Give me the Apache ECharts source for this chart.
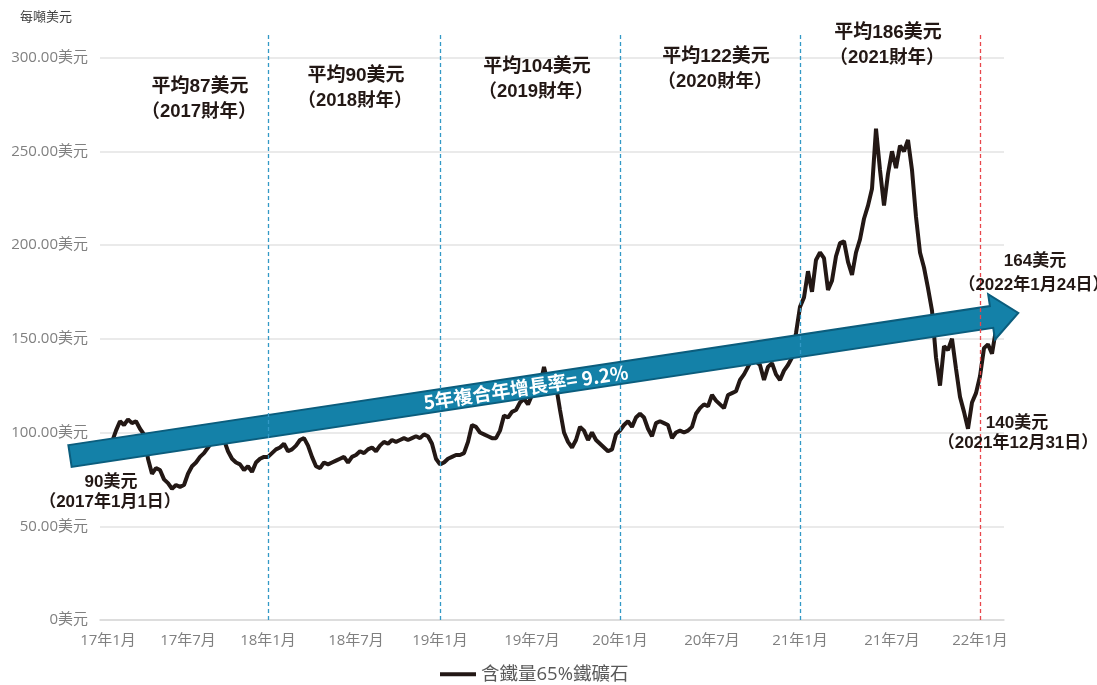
<!DOCTYPE html>
<html><head><meta charset="utf-8">
<script src="https://cdn.jsdelivr.net/npm/echarts@6/dist/echarts.min.js"></script>
<style>html,body{margin:0;padding:0;background:#fff}#c{width:1097px;height:685px}</style>
</head><body><div id="c"></div>
<script>
// ---------------- DATA ----------------
const seriesName = '含鐵量65%鐵礦石';
const unitLabel = '每噸美元';
const years = [2017, 2018, 2019, 2020, 2021, 2022];
const price2017 = [90,95,101,106,104,107,105,106,102,99, 86,78,81,80,75,73,70,72,71,72, 78,82,84,87,89,92,95,97,98,96, 90,86,84,83,80,82,79,84,86,87];
const price2018 = [87,89,91,92,94,90,91,93,96,97, 93,87,82,81,84,83,84,85,86,87, 84,87,88,90,89,91,92,90,93,95, 94,96,95,96,97,96,97,98,97,99, 98,94,86];
const price2019 = [83,84,86,87,88,88,89,95,104,103, 100,99,98,97,97,101,109,108,111,112, 116,118,115,120,124,125,135,126,128,125, 112,100,95,92,96,103,101,96,100,96, 94,92,90,91,99];
const price2020 = [101,104,106,103,108,110,108,102,98,105, 106,105,104,97,100,101,100,101,103,110, 113,115,114,120,117,115,113,120,121,122, 128,131,135,139,138,136,128,135,137,131, 128,133,136,140,153];
const price2021 = [167,172,186,175,192,196,193,176,181,194, 201,202,191,184,196,203,214,221,230,262, 240,221,238,250,241,253,250,256,240,215, 196,188,177,165,140,125,146,144,150,134, 119,111,102,116,121];
const price2022 = [130,145,147,142,155];
const priceByYear = [price2017, price2018, price2019, price2020, price2021, price2022];
const tickLabels = ['17年1月','17年7月','18年1月','18年7月','19年1月','19年7月','20年1月','20年7月','21年1月','21年7月','22年1月'];
const yUnit = '美元';
const avgLabels = ['平均87美元','平均90美元','平均104美元','平均122美元','平均186美元'];
const fyLabels = ['（2017財年）','（2018財年）','（2019財年）','（2020財年）','（2021財年）'];
const cagrText = '5年複合年增長率= 9.2%';
const startLabel = ['90美元','（2017年1月1日）'];
const endLabel = ['164美元','（2022年1月24日）'];
const yearEndLabel = ['140美元','（2021年12月31日）'];

// ---------------- BUILD CATEGORIES ----------------
const categories = ['pre-0','pre-1'];
const values = [null, null];
const yearStart = {};
const yearMid = {};
years.forEach((y, yi) => {
  const arr = priceByYear[yi];
  arr.forEach((v, i) => {
    const name = y + '-' + String(i).padStart(3, '0');
    if (i === 0) yearStart[y] = name;
    if (i === Math.round(arr.length / 2)) yearMid[y] = name;
    categories.push(name);
    values.push(v);
  });
});
categories.push('post-0', 'post-1');
values.push(null, null);

const labelMap = {};
let t = 0;
years.forEach(y => {
  if (t < tickLabels.length) labelMap[yearStart[y]] = tickLabels[t++];
  if (y !== 2022 && t < tickLabels.length) labelMap[yearMid[y]] = tickLabels[t++];
});

// ---------------- STYLE ----------------
const axisFont = "'Open Sans','Noto Sans CJK TC',sans-serif";
const annFont = "'Liberation Sans','Noto Sans CJK TC',sans-serif";
const ink = '#231815';
const gridLeft = 100, gridWidth = 904, gridBottom = 65;

const chart = echarts.init(document.getElementById('c'));

// arrow geometry (annotation)
const S = [70, 456];
const theta = Math.atan2(143, 948);
function P(a, p) {
  return [S[0] + a * Math.cos(theta) + p * Math.sin(theta),
          S[1] - a * Math.sin(theta) + p * Math.cos(theta)];
}
const arrowPts = [P(0,-11), P(932,-11), P(932,-23), P(959,0), P(932,23), P(932,11), P(0,11)];
const textC = P(461, 0);

function txt(s, x, y, size, color, weight, z) {
  return {
    type: 'text', x: x, y: y, z: z || 20,
    style: { text: s, x: 0, y: 0, fill: color, font: (weight || 'bold') + ' ' + size + 'px ' + annFont,
             align: 'center', verticalAlign: 'middle', textAlign: 'center', textVerticalAlign: 'middle' }
  };
}

const avgPos = [[200, 87], [356, 76], [537, 67], [716, 57], [888, 33]];
const graphics = [
  { type: 'polygon', z: 4, shape: { points: arrowPts },
    style: { fill: '#1481a8', stroke: '#0b5d7d', lineWidth: 2 } },
  { type: 'text', x: textC[0], y: textC[1], rotation: theta, z: 6,
    style: { text: cagrText, x: 0, y: 0, fill: '#ffffff', font: 'bold 19px ' + "'Noto Sans CJK TC',sans-serif",
             align: 'center', verticalAlign: 'middle', textAlign: 'center', textVerticalAlign: 'middle' } },
  { type: 'text', x: 20, y: 17, z: 20,
    style: { text: unitLabel, x: 0, y: 0, fill: '#404040', font: '13px ' + axisFont,
             align: 'left', verticalAlign: 'middle', textAlign: 'left', textVerticalAlign: 'middle' } }
];
avgLabels.forEach((s, i) => {
  graphics.push(txt(s, avgPos[i][0], avgPos[i][1], 19, ink));
  graphics.push(txt(fyLabels[i], avgPos[i][0] - 1, avgPos[i][1] + 25, 18.5, ink));
});
graphics.push(txt(startLabel[0], 111, 482, 17, ink));
graphics.push(txt(startLabel[1], 110, 502, 17, ink));
graphics.push(txt(endLabel[0], 1035, 261, 17, ink));
graphics.push(txt(endLabel[1], 1034, 285, 17, ink));
graphics.push(txt(yearEndLabel[0], 1017, 423, 17, ink));
graphics.push(txt(yearEndLabel[1], 1018, 443, 17, ink));

const dividerData = [2018, 2019, 2020, 2021].map(y => ({
  xAxis: yearStart[y], lineStyle: { color: '#3399c6', type: [4, 3], width: 1.3 }
}));
dividerData.push({ xAxis: yearStart[2022], lineStyle: { color: '#e8474c', type: [4, 3], width: 1.3 } });

chart.setOption({
  animation: false,
  backgroundColor: '#ffffff',
  grid: [
    { left: gridLeft, width: gridWidth, top: 57.5, bottom: gridBottom },
    { left: gridLeft, width: gridWidth, top: 35, bottom: gridBottom }
  ],
  legend: {
    data: [seriesName], left: 435, top: 660, icon: 'rect', itemWidth: 36, itemHeight: 4, itemGap: 7,
    textStyle: { color: '#595959', fontSize: 18.5, fontFamily: axisFont }
  },
  xAxis: [
    { type: 'category', data: categories, boundaryGap: false, gridIndex: 0,
      axisTick: { show: false },
      axisLine: { show: true, lineStyle: { color: '#d9d9d9', width: 1.5 } },
      axisLabel: {
        interval: (idx, val) => labelMap[val] !== undefined,
        formatter: (val) => labelMap[val] || '',
        color: '#808080', fontSize: 15, fontFamily: axisFont, margin: 13
      },
      splitLine: { show: false } },
    { type: 'category', data: categories, boundaryGap: false, gridIndex: 1, show: false }
  ],
  yAxis: [
    { type: 'value', min: 0, max: 300, interval: 50, gridIndex: 0,
      axisLine: { show: false }, axisTick: { show: false },
      axisLabel: { formatter: v => (v === 0 ? '0' : v.toFixed(2)) + yUnit,
                   color: '#808080', fontSize: 15, fontFamily: axisFont, margin: 12 },
      splitLine: { lineStyle: { color: '#e3e3e3', width: 1.5 } } },
    { type: 'value', min: 0, max: 1, gridIndex: 1, show: false }
  ],
  series: [
    { name: seriesName, type: 'line', data: values, xAxisIndex: 0, yAxisIndex: 0,
      showSymbol: false, symbol: 'none', z: 2,
      lineStyle: { color: ink, width: 4 }, itemStyle: { color: ink } },
    { name: 'dividers', type: 'line', data: [], xAxisIndex: 1, yAxisIndex: 1,
      markLine: { silent: true, symbol: 'none', z: 5, label: { show: false }, data: dividerData } }
  ],
  graphic: { elements: graphics }
});
</script></body></html>
